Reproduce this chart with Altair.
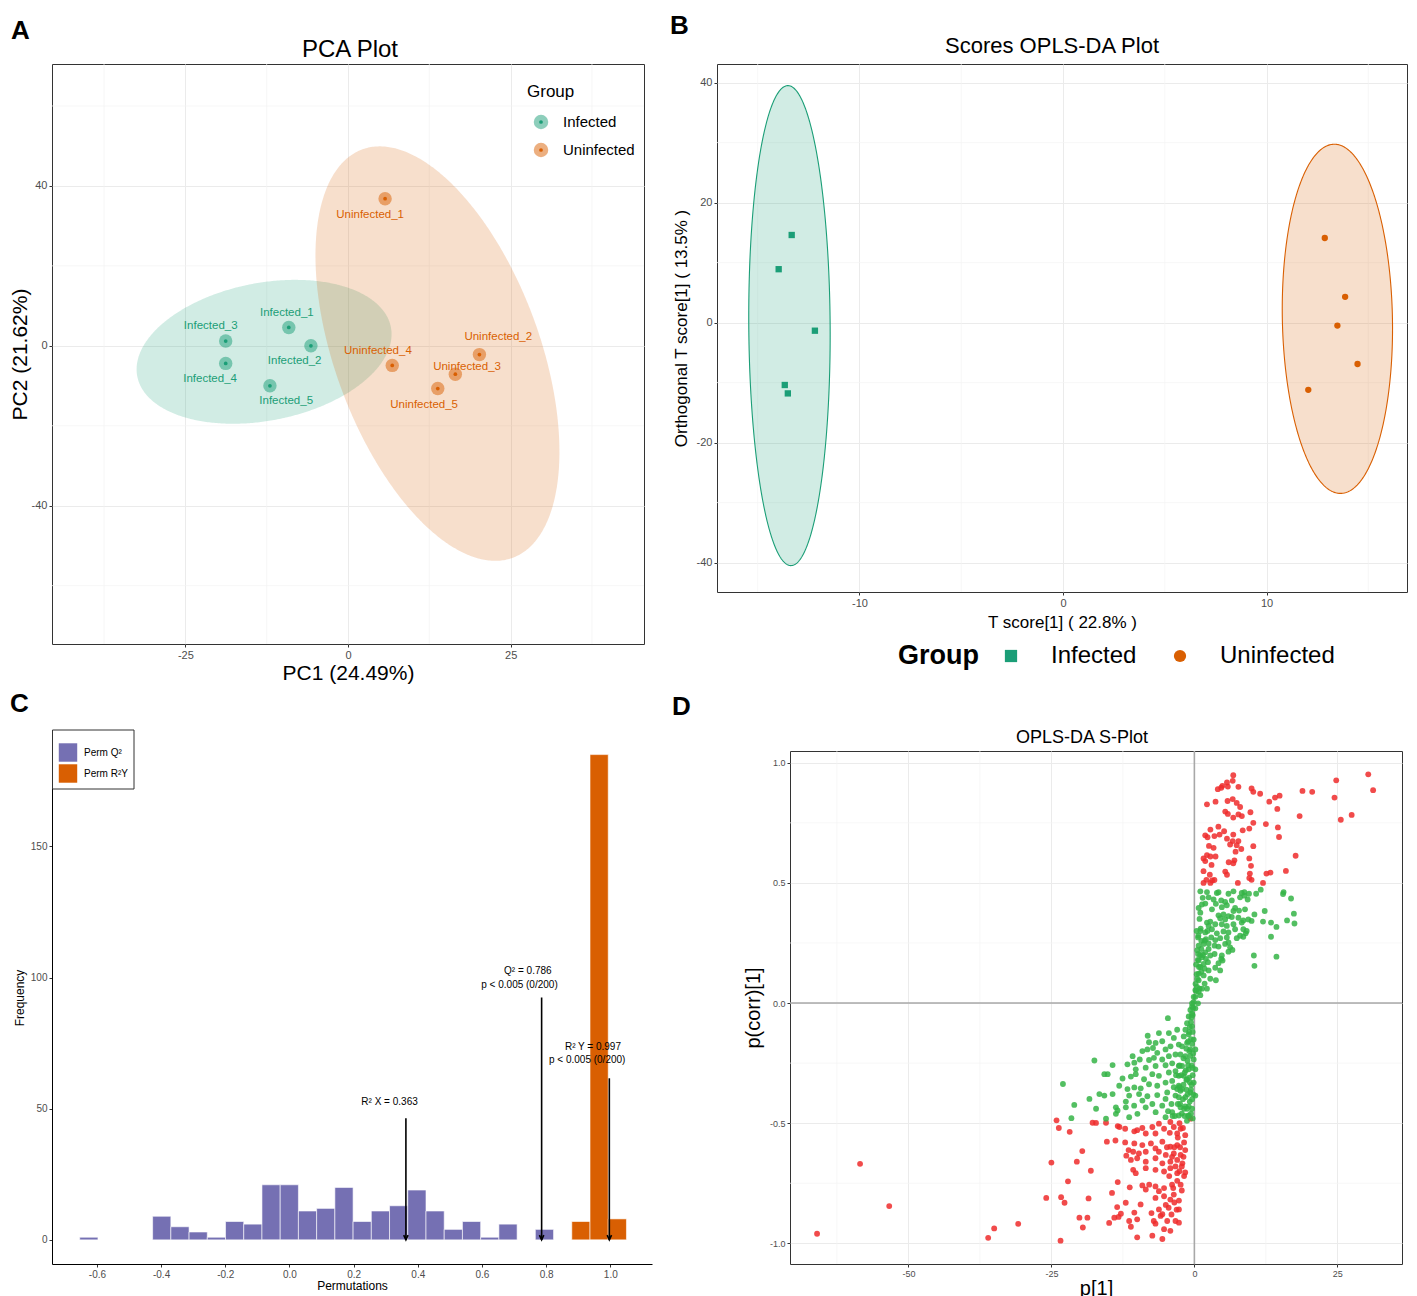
import altair as alt
import numpy as np
import pandas as pd

FONT = "Liberation Sans"
GREEN = "#1B9E77"
ORANGE = "#D95F02"
PURPLE = "#7570B3"
SP_RED = "#EE2C2C"
SP_GREEN = "#35B446"
GRID = "#EBEBEB"
GRID_MINOR = "#F3F3F3"
groups = ["Infected", "Uninfected"]

# ---------------- Panel A : PCA ----------------
pca_sample = ["Infected_1", "Infected_2", "Infected_3", "Infected_4", "Infected_5",
              "Uninfected_1", "Uninfected_2", "Uninfected_3", "Uninfected_4", "Uninfected_5"]
pca_group = ["Infected"] * 5 + ["Uninfected"] * 5
pca_pc1 = [-9.1, -5.7, -18.8, -18.8, -12.0, 5.7, 20.2, 16.5, 6.8, 13.8]
pca_pc2 = [4.6, 0.0, 1.2, -4.4, -10.0, 36.8, -2.2, -7.1, -4.9, -10.7]
pca_label_pc1 = [-9.4, -8.2, -21.1, -21.2, -9.5, 3.4, 23.1, 18.3, 4.6, 11.7]
pca_label_pc2 = [8.3, -3.9, 4.9, -8.3, -13.9, 32.7, 2.2, -5.4, -1.2, -14.9]
pca_ell_cx = [-12.9, 13.75]
pca_ell_cy = [-1.5, -1.95]
pca_ell_sxx = [384.0, 351.6]
pca_ell_syy = [324.0, 2688.0]
pca_ell_sxy = [86.0, -460.0]
pca_x_ticks = [-25, 0, 25]
pca_y_ticks = [-40, 0, 40]
pca_x_minor = [-37.5, -12.5, 12.5, 37.5]
pca_y_minor = [-60, -20, 20, 60]

# ---------------- Panel B : OPLS-DA scores ----------------
opls_group = ["Infected"] * 5 + ["Uninfected"] * 5
opls_t = [-13.33, -13.97, -12.19, -13.67, -13.52, 12.86, 13.86, 13.48, 14.47, 12.05]
opls_to = [14.6, 8.9, -1.35, -10.4, -11.8, 14.1, 4.3, -0.5, -6.9, -11.2]
opls_ell_cx = [-13.44, 13.48]
opls_ell_cy = [-0.5, 0.63]
opls_ell_sxx = [4.0, 7.34]
opls_ell_syy = [1600.0, 846.8]
opls_ell_sxy = [-3.0, -4.4]
opls_x_ticks = [-10, 0, 10]
opls_y_ticks = [-40, -20, 0, 20, 40]
opls_x_minor = [-15, -5, 5, 15]
opls_y_minor = [-30, -10, 10, 30]

# ---------------- Panel C : permutation histogram ----------------
perm_bin_width = 0.0568
perm_q2_start = [-0.6536, -0.4264, -0.3696, -0.3128, -0.2560, -0.1992, -0.1424, -0.0856,
                 -0.0288, 0.0280, 0.0848, 0.1416, 0.1984, 0.2552, 0.3120, 0.3688, 0.4256,
                 0.4824, 0.5392, 0.5960, 0.6528, 0.7664]
perm_q2_count = [1, 9, 5, 3, 1, 7, 6, 21, 21, 11, 12, 20, 7, 11, 13, 19, 11, 4, 7, 1, 6, 4]
perm_r2y_start = [0.8800, 0.9368, 0.9936]
perm_r2y_count = [7, 185, 8]
perm_series = ["Perm Q\u00b2", "Perm R\u00b2Y"]
perm_arrow_x = [0.363, 0.786, 0.997]
perm_arrow_top = [46.4, 92.4, 61.6]
perm_text = ["R\u00b2 X = 0.363", "Q\u00b2 = 0.786", "p < 0.005 (0/200)",
             "R\u00b2 Y = 0.997", "p < 0.005 (0/200)"]
perm_text_x = [0.312, 0.743, 0.717, 0.946, 0.928]
perm_text_y = [52.4, 102.4, 97.3, 73.5, 68.5]
perm_x_ticks = [-0.6, -0.4, -0.2, 0.0, 0.2, 0.4, 0.6, 0.8, 1.0]
perm_y_ticks = [0, 50, 100, 150]

# ---------------- Panel D : S-plot ----------------
splot_red_upper = [
    (6.8, 0.948), (6.7, 0.925), (5.7, 0.918), (4.9, 0.904), (4.1, 0.890), (4.7, 0.896), (5.85, 0.901),
    (7.7, 0.900), (10.0, 0.893), (10.3, 0.879), (11.5, 0.871), (24.8, 0.927), (30.4, 0.952), (31.25, 0.886),
    (18.9, 0.883), (20.6, 0.879), (24.5, 0.855), (14.1, 0.855), (14.9, 0.863), (13.1, 0.838), (2.2, 0.827),
    (3.7, 0.838), (5.8, 0.841), (6.7, 0.849), (7.4, 0.833), (8.0, 0.816), (5.4, 0.797), (5.85, 0.787),
    (7.7, 0.785), (8.3, 0.778), (6.8, 0.772), (9.8, 0.794), (14.5, 0.808), (18.4, 0.778), (27.5, 0.783),
    (25.6, 0.763), (12.5, 0.745), (10.3, 0.750), (9.6, 0.726), (8.45, 0.719), (14.6, 0.731), (14.8, 0.691),
    (4.2, 0.734), (2.8, 0.722), (1.9, 0.698), (2.3, 0.690), (3.5, 0.695), (4.4, 0.701), (5.2, 0.715),
    (6.8, 0.701), (5.7, 0.684), (6.7, 0.674), (7.7, 0.674), (6.25, 0.660), (7.4, 0.657), (8.2, 0.641),
    (7.2, 0.630), (10.3, 0.653), (2.55, 0.654), (3.36, 0.646), (2.2, 0.616), (1.6, 0.602), (2.8, 0.610),
    (3.7, 0.610), (1.9, 0.591), (3.0, 0.575), (6.0, 0.586), (7.0, 0.594), (6.8, 0.582), (9.6, 0.602),
    (9.9, 0.571), (17.7, 0.613), (16.0, 0.550), (12.6, 0.539), (13.3, 0.543), (1.6, 0.549), (2.7, 0.534),
    (5.4, 0.547), (5.7, 0.534), (9.7, 0.539), (9.6, 0.520), (10.0, 0.513), (2.1, 0.513), (3.5, 0.512),
    (1.6, 0.500), (2.8, 0.500), (7.6, 0.500), (12.0, 0.500), (3.1, 0.510),
]
splot_red_lower = [
    (-24.1, -0.488), (-23.7, -0.52), (-21.8, -0.536), (-17.8, -0.498), (-17.2, -0.499), (-15.45, -0.498),
    (-13.4, -0.512), (-13.1, -0.516), (-12.1, -0.523), (-10.5, -0.534), (-10.0, -0.529), (-9.1, -0.52),
    (-8.5, -0.543), (-7.35, -0.516), (-6.8, -0.543), (-6.2, -0.502), (-5.3, -0.523), (-4.2, -0.495),
    (-3.6, -0.516), (-3.0, -0.543), (-2.4, -0.523), (-0.7, -0.481), (-15.3, -0.577), (-13.8, -0.572),
    (-12.1, -0.58), (-10.5, -0.584), (-9.1, -0.591), (-7.6, -0.584), (-6.8, -0.605), (-5.6, -0.577),
    (-4.2, -0.598), (-3.0, -0.591), (-1.6, -0.612), (-11.5, -0.612), (-10.7, -0.619), (-9.7, -0.626),
    (-8.5, -0.619), (-6.2, -0.619), (-5.0, -0.632), (-3.6, -0.626), (-2.4, -0.632), (-19.6, -0.616),
    (-11.9, -0.635), (-11.1, -0.653), (-10.0, -0.646), (-8.5, -0.66), (-6.8, -0.646), (-5.6, -0.667),
    (-4.2, -0.66), (-3.0, -0.653), (-2.1, -0.667), (-25.0, -0.664), (-20.55, -0.66), (-18.1, -0.698),
    (-10.7, -0.694), (-10.25, -0.708), (-8.5, -0.687), (-6.8, -0.694), (-5.3, -0.701), (-4.2, -0.687),
    (-3.0, -0.708), (-1.6, -0.705), (-22.1, -0.742), (-13.4, -0.745), (-11.3, -0.767), (-9.1, -0.759),
    (-7.9, -0.756), (-6.8, -0.763), (-5.3, -0.770), (-3.9, -0.756), (-2.4, -0.756), (-8.5, -0.776),
    (-6.2, -0.783), (-3.6, -0.797), (-25.9, -0.811), (-23.3, -0.808), (-22.7, -0.831), (-18.5, -0.813),
    (-14.4, -0.79), (-12.0, -0.831), (-9.4, -0.838), (-6.8, -0.811), (-5.3, -0.804), (-4.2, -0.818),
    (-2.7, -0.822), (-13.5, -0.849), (-10.5, -0.872), (-7.5, -0.874), (-6.2, -0.859), (-5.6, -0.879),
    (-4.5, -0.852), (-2.7, -0.859), (-20.1, -0.893), (-18.7, -0.893), (-14.0, -0.893), (-13.25, -0.89),
    (-12.85, -0.877), (-11.4, -0.907), (-10.0, -0.9), (-7.1, -0.907), (-5.9, -0.886), (-4.75, -0.907),
    (-19.5, -0.934), (-14.9, -0.915), (-11.1, -0.931), (-6.8, -0.918), (-5.3, -0.941), (-4.2, -0.948),
    (-3.3, -0.907), (-2.7, -0.914), (-10.0, -0.975), (-7.35, -0.968), (-5.6, -0.982), (-23.4, -0.989),
    (-58.45, -0.669), (-53.35, -0.845), (-65.97, -0.960), (-30.8, -0.919), (-35.0, -0.938), (-36.05, -0.977),
    (-2.0, -0.52), (-2.9, -0.56), (-1.8, -0.58), (-3.5, -0.6), (-2.5, -0.6), (-1.9, -0.64), (-3.3, -0.68),
    (-2.6, -0.7), (-1.8, -0.72), (-4.4, -0.72), (-3.0, -0.74), (-2.2, -0.78), (-4.8, -0.6), (-4.3, -0.54),
    (-2.6, -0.5), (-1.6, -0.55), (-3.9, -0.64), (-2.2, -0.68), (-3.7, -0.77), (-5.0, -0.84), (-3.1, -0.86),
    (-4.0, -0.88), (-3.5, -0.83),
]
splot_green_upper = [
    (1.04, 0.465), (2.20, 0.462), (3.93, 0.458), (4.22, 0.461), (5.96, 0.455), (6.83, 0.465), (8.28, 0.458),
    (8.74, 0.462), (9.55, 0.455), (10.8, 0.455), (11.6, 0.472), (15.6, 0.462), (15.5, 0.454), (16.9, 0.435),
    (1.45, 0.438), (2.49, 0.440), (3.36, 0.431), (4.69, 0.427), (5.38, 0.421), (6.54, 0.427), (7.99, 0.440),
    (8.74, 0.447), (9.32, 0.431), (0.75, 0.396), (1.33, 0.410), (1.91, 0.414), (3.76, 0.413), (4.80, 0.399),
    (5.67, 0.407), (7.12, 0.396), (6.83, 0.383), (7.81, 0.385), (8.85, 0.390), (10.5, 0.369), (12.3, 0.383),
    (17.4, 0.372), (1.04, 0.376), (3.07, 0.390), (4.22, 0.365), (5.09, 0.369), (5.96, 0.362), (4.51, 0.353),
    (5.38, 0.348), (6.54, 0.358), (7.70, 0.355), (8.56, 0.344), (9.43, 0.348), (10.0, 0.342), (12.0, 0.339),
    (13.4, 0.335), (16.2, 0.344), (17.5, 0.331), (2.20, 0.335), (2.78, 0.339), (3.65, 0.328), (2.49, 0.321),
    (4.80, 0.328), (5.67, 0.321), (6.83, 0.328), (8.28, 0.335), (8.56, 0.307), (9.14, 0.300), (14.35, 0.317),
    (1.04, 0.300), (1.91, 0.294), (3.07, 0.307), (3.93, 0.290), (5.09, 0.298), (5.96, 0.294), (7.12, 0.307),
    (7.99, 0.280), (8.97, 0.290), (13.4, 0.276), (0.64, 0.273), (1.21, 0.259), (2.02, 0.266), (2.95, 0.273),
    (3.65, 0.262), (4.51, 0.270), (5.67, 0.273), (5.96, 0.252), (7.41, 0.270), (8.56, 0.276), (0.75, 0.239),
    (1.62, 0.246), (2.49, 0.248), (3.53, 0.239), (4.22, 0.235), (5.38, 0.246), (6.25, 0.232), (1.21, 0.225),
    (1.91, 0.211), (2.49, 0.225), (2.78, 0.198), (5.96, 0.214), (6.65, 0.221), (0.64, 0.204), (1.33, 0.191),
    (2.02, 0.184), (3.53, 0.204), (4.80, 0.198), (10.4, 0.198), (14.35, 0.193), (0.75, 0.177), (1.62, 0.163),
    (2.37, 0.170), (4.22, 0.166), (4.69, 0.184), (4.92, 0.177), (10.5, 0.155), (1.04, 0.150), (1.79, 0.143),
    (2.49, 0.136), (3.65, 0.147), (4.51, 0.136), (0.75, 0.122), (1.62, 0.115), (2.78, 0.101), (3.76, 0.095),
    (0.75, 0.095), (1.79, 0.081), (0.46, 0.067), (1.33, 0.060), (2.20, 0.060), (0.75, 0.047), (0.17, 0.026),
    (1.04, 0.033), (-0.12, 0.005), (0.64, -0.001), (-0.40, -0.015), (0.17, -0.022),
    (0.3, 0.05), (0.5, 0.10), (0.8, 0.15), (1.0, 0.20), (0.4, 0.12), (0.6, 0.18), (0.2, 0.08), (1.2, 0.13),
    (0.9, 0.06), (0.5, 0.22), (1.5, 0.20), (0.3, 0.16), (0.7, 0.28), (1.1, 0.31), (0.4, 0.30), (1.8, 0.26),
    (2.3, 0.30), (0.9, 0.35),
]
splot_green_lower = [
    (-4.63, -0.063), (-8.16, -0.136), (-6.2, -0.125), (-4.46, -0.125), (-3.01, -0.111), (-7.93, -0.163),
    (-6.78, -0.166), (-5.62, -0.159), (-3.59, -0.145), (-9.09, -0.2), (-8.22, -0.193), (-7.24, -0.187),
    (-6.49, -0.207), (-5.04, -0.193), (-4.17, -0.18), (-2.72, -0.173), (-10.8, -0.221), (-9.55, -0.235),
    (-7.93, -0.237), (-7.07, -0.228), (-5.62, -0.235), (-4.46, -0.221), (-3.30, -0.214), (-11.7, -0.255),
    (-10.5, -0.248), (-10.25, -0.276), (-8.51, -0.269), (-6.78, -0.262), (-5.04, -0.259), (-3.88, -0.251),
    (-2.72, -0.262), (-12.56, -0.314), (-11.1, -0.306), (-10.25, -0.296), (-8.8, -0.317), (-7.35, -0.296),
    (-6.2, -0.303), (-4.46, -0.289), (-3.30, -0.283), (-13.14, -0.344), (-11.7, -0.358), (-10.5, -0.351),
    (-9.38, -0.355), (-7.93, -0.338), (-6.49, -0.344), (-5.04, -0.331), (-3.88, -0.324), (-2.72, -0.344),
    (-11.4, -0.385), (-9.67, -0.379), (-8.22, -0.388), (-6.49, -0.383), (-4.75, -0.372), (-3.30, -0.385),
    (-2.44, -0.365),
    (0.17, 0.054), (-0.12, 0.026), (-0.41, -0.001), (-0.70, -0.029), (-0.99, -0.056), (-1.28, -0.084),
    (-1.57, -0.111), (-1.86, -0.139), (-0.41, -0.097), (-0.12, -0.152), (-2.15, -0.18), (-0.70, -0.193),
    (-1.57, -0.221), (-0.12, -0.235), (-2.15, -0.262), (-0.99, -0.276), (-2.72, -0.303), (-1.28, -0.317),
    (-0.12, -0.331), (-2.15, -0.358), (-0.70, -0.372), (-1.57, -0.392), (0.17, -0.276), (-0.41, -0.043),
    (-1.28, -0.166), (-2.44, -0.214), (0.17, -0.193), (-1.86, -0.303), (-3.01, -0.358), (0.17, -0.385),
    (-0.2, -0.02), (-0.5, -0.06), (-0.8, -0.10), (-1.0, -0.13), (-0.3, -0.12), (-0.6, -0.15), (-0.9, -0.20),
    (-1.2, -0.24), (-0.5, -0.26), (-1.5, -0.28), (-0.3, -0.30), (-0.8, -0.33), (-1.4, -0.36), (-0.4, -0.40),
    (-1.0, -0.43), (-0.6, -0.46), (-1.8, -0.44), (-2.5, -0.42), (-0.3, -0.48), (-1.3, -0.49),
    (-0.3, -0.05), (-0.6, -0.08), (-0.9, -0.12), (-1.1, -0.16), (-0.4, -0.17), (-1.4, -0.19), (-0.7, -0.22),
    (-1.9, -0.23), (-1.1, -0.26), (-0.3, -0.27), (-1.7, -0.29), (-2.3, -0.30), (-0.9, -0.31), (-0.5, -0.34),
    (-1.9, -0.34), (-2.6, -0.35), (-1.2, -0.38), (-0.2, -0.38), (-2.0, -0.40), (-0.8, -0.41), (-1.6, -0.43),
    (-2.9, -0.42), (-0.4, -0.44), (-2.2, -0.46), (-1.1, -0.47), (-3.4, -0.47), (-0.6, -0.36), (-1.4, -0.32),
    (-0.2, -0.21), (-2.6, -0.26), (-3.2, -0.30), (-3.6, -0.35), (-4.0, -0.42), (-4.6, -0.45), (-3.8, -0.47),
    (-1.7, -0.47),
    (-17.48, -0.239), (-14.3, -0.258), (-22.98, -0.337), (-15.74, -0.296), (-15.16, -0.296), (-16.61, -0.379),
    (-18.35, -0.399), (-15.74, -0.385), (-14.3, -0.379), (-11.98, -0.41), (-9.09, -0.406), (-5.04, -0.399),
    (-2.72, -0.392), (-21.0, -0.424), (-17.19, -0.44), (-13.72, -0.434), (-13.43, -0.447), (-11.98, -0.434),
    (-10.53, -0.427), (-8.51, -0.434), (-7.35, -0.42), (-5.62, -0.427), (-3.88, -0.454), (-2.43, -0.434),
    (-1.27, -0.44), (-21.5, -0.479), (-15.45, -0.481), (-13.72, -0.461), (-11.4, -0.475), (-9.96, -0.461),
    (-6.77, -0.454), (-5.04, -0.475), (-2.72, -0.468), (-0.99, -0.468),
]
splot_x_ticks = [-50, -25, 0, 25]
splot_y_ticks = [-1.0, -0.5, 0.0, 0.5, 1.0]
splot_x_minor = [-62.5, -37.5, -12.5, 12.5]
splot_y_minor = [-0.75, -0.25, 0.25, 0.75]


# ---------------- helpers ----------------
def ellipse_frame(cx, cy, sxx, syy, sxy, names, n=241):
    parts = []
    for k in range(len(cx)):
        L = np.linalg.cholesky(np.array([[sxx[k], sxy[k]], [sxy[k], syy[k]]]))
        u = -np.cos(np.linspace(0, np.pi, n))
        s = np.sqrt(np.clip(1 - u ** 2, 0, None))
        parts.append(pd.DataFrame({
            "x": cx[k] + L[0, 0] * u,
            "y": cy[k] + L[1, 0] * u + L[1, 1] * s,
            "y2": cy[k] + L[1, 0] * u - L[1, 1] * s,
            "group": names[k],
        }))
    return pd.concat(parts, ignore_index=True)


def free_text(txt, dx, dy, size, weight="normal", align="left", color="black"):
    return alt.Chart(pd.DataFrame({"t": [txt]})).mark_text(
        fontSize=size, fontWeight=weight, align=align, baseline="middle", font=FONT, color=color
    ).encode(x=alt.value(dx), y=alt.value(dy), text="t:N")


def key_symbol(dx, dy, shape, color, size, opacity=1.0):
    return alt.Chart(pd.DataFrame({"k": [0]})).mark_point(
        shape=shape, filled=True, size=size, color=color, opacity=opacity, strokeWidth=0
    ).encode(x=alt.value(dx), y=alt.value(dy))


def letter(ch, dx, dy):
    return free_text(ch, dx, dy, 26, "bold", "left")


def grid_rules(xs, ys, X, Y, color=GRID_MINOR, width=0.7):
    gx = alt.Chart(pd.DataFrame({"x": xs})).mark_rule(color=color, strokeWidth=width).encode(x=X)
    gy = alt.Chart(pd.DataFrame({"y": ys})).mark_rule(color=color, strokeWidth=width).encode(y=Y)
    return [gx, gy]


def axis(values, title, lsize, tsize, pad, fmt=None, grid=True, **kw):
    d = dict(values=values, title=title, grid=grid, gridColor=GRID, gridWidth=1, domain=False,
             tickColor="#333333", tickSize=3, labelColor="#4D4D4D", labelFontSize=lsize,
             titleFontSize=tsize, titleFontWeight="normal", titleColor="black",
             titlePadding=pad, labelFont=FONT, titleFont=FONT, labelPadding=2,
             labelExpr="replace(datum.label, '\u2212', '-')")
    if fmt:
        d["format"] = fmt
    d.update(kw)
    return alt.Axis(**d)


grp_scale = alt.Scale(domain=groups, range=[GREEN, ORANGE])
grp_colors = [GREEN, ORANGE]

# ---------------- Panel A chart ----------------
A_W, A_H = 592, 580
xA = alt.X("x:Q", scale=alt.Scale(domain=[-45.5, 45.5], nice=False, zero=False),
           axis=axis(pca_x_ticks, "PC1 (24.49%)", 11, 21, 2))
yA = alt.Y("y:Q", scale=alt.Scale(domain=[-74.6, 70.5], nice=False, zero=False),
           axis=axis(pca_y_ticks, "PC2 (21.62%)", 11, 21, 1))
pca_df = pd.DataFrame({"x": pca_pc1, "y": pca_pc2, "group": pca_group, "sample": pca_sample})
pca_lab = pd.DataFrame({"x": pca_label_pc1, "y": pca_label_pc2, "group": pca_group, "sample": pca_sample})
pca_ell = ellipse_frame(pca_ell_cx, pca_ell_cy, pca_ell_sxx, pca_ell_syy, pca_ell_sxy, groups)

A_layers = grid_rules(pca_x_minor, pca_y_minor, xA, yA)
A_layers.append(alt.Chart(pca_ell).mark_area(fillOpacity=0.2).encode(
    x=xA, y=yA, y2="y2:Q", fill=alt.Fill("group:N", scale=grp_scale, legend=None)))
A_layers.append(alt.Chart(pca_df).mark_circle(size=180, opacity=0.5).encode(
    x=xA, y=yA, fill=alt.Fill("group:N", scale=grp_scale, legend=None)))
A_layers.append(alt.Chart(pca_df).mark_circle(size=14, opacity=1).encode(
    x=xA, y=yA, fill=alt.Fill("group:N", scale=grp_scale, legend=None)))
A_layers.append(alt.Chart(pca_lab).mark_text(fontSize=11.5, font=FONT).encode(
    x=xA, y=yA, text="sample:N", fill=alt.Fill("group:N", scale=grp_scale, legend=None)))
# legend "Group" (inside the panel, top right)
A_layers.append(free_text("Group", 475, 28, 17))
for i, g in enumerate(groups):
    A_layers.append(key_symbol(489, 58 + 28 * i, "circle", grp_colors[i], 210, 0.5))
    A_layers.append(key_symbol(489, 58 + 28 * i, "circle", grp_colors[i], 14, 1.0))
    A_layers.append(free_text(g, 511, 58 + 28 * i, 15))
A_layers.append(free_text("PCA Plot", A_W / 2 + 2, -14, 24, align="center"))
A_layers.append(letter("A", -41, -33))
chartA = alt.layer(*A_layers).properties(
    width=A_W, height=A_H, view=alt.ViewBackground(stroke="#333333", strokeWidth=1))

# ---------------- Panel B chart ----------------
B_W, B_H = 690, 528
xB = alt.X("x:Q", scale=alt.Scale(domain=[-17.0, 16.9], nice=False, zero=False),
           axis=axis(opls_x_ticks, "T score[1] ( 22.8% )", 11, 17, 6))
yB = alt.Y("y:Q", scale=alt.Scale(domain=[-44.9, 43.1], nice=False, zero=False),
           axis=axis(opls_y_ticks, "Orthogonal T score[1] ( 13.5% )", 11, 17, 6))
opls_df = pd.DataFrame({"x": opls_t, "y": opls_to, "group": opls_group})
opls_ell = ellipse_frame(opls_ell_cx, opls_ell_cy, opls_ell_sxx, opls_ell_syy, opls_ell_sxy, groups)
B_layers = grid_rules(opls_x_minor, opls_y_minor, xB, yB)
B_layers.append(alt.Chart(opls_ell).mark_area(fillOpacity=0.2, strokeWidth=1.1).encode(
    x=xB, y=yB, y2="y2:Q",
    fill=alt.Fill("group:N", scale=grp_scale, legend=None),
    stroke=alt.Stroke("group:N", scale=grp_scale, legend=None)))
B_layers.append(alt.Chart(opls_df).mark_point(filled=True, opacity=1, size=40).encode(
    x=xB, y=yB,
    fill=alt.Fill("group:N", scale=grp_scale, legend=None),
    shape=alt.Shape("group:N", scale=alt.Scale(domain=groups, range=["square", "circle"]), legend=None)))
# legend "Group" below the panel
LEG_Y = B_H + 64
B_layers.append(free_text("Group", 181, LEG_Y, 27, weight="bold"))
B_layers.append(key_symbol(294, LEG_Y, "square", GREEN, 150))
B_layers.append(free_text("Infected", 334, LEG_Y, 24))
B_layers.append(key_symbol(463, LEG_Y, "circle", ORANGE, 150))
B_layers.append(free_text("Uninfected", 503, LEG_Y, 24))
B_layers.append(free_text("Scores OPLS-DA Plot", B_W / 2 - 10, -18, 22, align="center"))
B_layers.append(letter("B", -47, -38))
chartB = alt.layer(*B_layers).properties(
    width=B_W, height=B_H, view=alt.ViewBackground(stroke="#333333", strokeWidth=1))

# ---------------- Panel C chart ----------------
C_W, C_H = 600, 513
C_TOP = -20   # the histogram's y axis starts a little higher than the S-plot frame
xC = alt.X("x:Q", scale=alt.Scale(domain=[-0.74, 1.13], nice=False, zero=False),
           axis=axis(perm_x_ticks, "Permutations", 10, 12, 1, fmt=".1f", grid=False,
                     domain=True, domainColor="black", domainWidth=1))
yC = alt.Y("y:Q", scale=alt.Scale(domain=[-9.2, 194], range=[C_H, C_TOP], nice=False, zero=False),
           axis=axis(perm_y_ticks, "Frequency", 10, 12, 4, grid=False,
                     domain=True, domainColor="black", domainWidth=1))
hist_df = pd.DataFrame({
    "x": perm_q2_start + perm_r2y_start,
    "count": perm_q2_count + perm_r2y_count,
    "series": [perm_series[0]] * len(perm_q2_start) + [perm_series[1]] * len(perm_r2y_start),
})
hist_df["x_end"] = hist_df["x"] + perm_bin_width
hist_df["y"] = hist_df["count"]
hist_df["y0"] = 0
arrow_df = pd.DataFrame({"x": perm_arrow_x, "y": perm_arrow_top, "y0": [0] * 3})
head_df = pd.DataFrame({"x": perm_arrow_x, "y": [0] * 3})
note_df = pd.DataFrame({"x": perm_text_x, "y": perm_text_y, "t": perm_text})
C_layers = [
    alt.Chart(hist_df).mark_bar(stroke="white", strokeWidth=0.6).encode(
        x=xC, x2="x_end:Q", y=yC, y2="y0:Q",
        color=alt.Color("series:N", scale=alt.Scale(domain=perm_series, range=[PURPLE, ORANGE]),
                        legend=None)),
    alt.Chart(arrow_df).mark_rule(color="black", strokeWidth=1.6).encode(x=xC, y=yC, y2="y0:Q"),
    alt.Chart(head_df).mark_point(shape="M-0.8,-1.7L0,0L0.8,-1.7", filled=False, color="black",
                                  strokeWidth=1.6, size=30, opacity=1).encode(x=xC, y=yC),
    alt.Chart(note_df).mark_text(fontSize=10, font=FONT, color="black").encode(x=xC, y=yC, text="t:N"),
    # legend box (top-left, inside the axes)
    alt.Chart(pd.DataFrame({"k": [0]})).mark_rect(fill="white", stroke="#333333", strokeWidth=1).encode(
        x=alt.value(0.5), x2=alt.value(82), y=alt.value(C_TOP - 1), y2=alt.value(C_TOP + 58)),
    key_symbol(16, C_TOP + 21.5, "square", PURPLE, 340),
    key_symbol(16, C_TOP + 42.5, "square", ORANGE, 340),
    free_text(perm_series[0], 32, C_TOP + 21.5, 10),
    free_text(perm_series[1], 32, C_TOP + 42.5, 10),
    letter("C", -42, C_TOP - 27),
]
chartC = alt.layer(*C_layers).properties(width=C_W, height=C_H)

# ---------------- Panel D chart ----------------
D_W, D_H = 612, 513
xD = alt.X("x:Q", scale=alt.Scale(domain=[-70.7, 36.3], nice=False, zero=False),
           axis=axis(splot_x_ticks, "p[1]", 9, 20, 0))
yD = alt.Y("y:Q", scale=alt.Scale(domain=[-1.086, 1.049], nice=False, zero=False),
           axis=axis(splot_y_ticks, "p(corr)[1]", 9, 20, 6, fmt=".1f"))
sp_rows = ([(x, y, "red") for x, y in splot_red_upper + splot_red_lower] +
           [(x, y, "green") for x, y in splot_green_upper + splot_green_lower])
sp_df = pd.DataFrame(sp_rows, columns=["x", "y", "cls"])
D_layers = grid_rules(splot_x_minor, splot_y_minor, xD, yD)
D_layers += grid_rules([0], [0], xD, yD, color="#A8A8A8", width=1.6)
D_layers.append(alt.Chart(sp_df).mark_circle(size=34, opacity=0.85).encode(
    x=xD, y=yD,
    color=alt.Color("cls:N", scale=alt.Scale(domain=["red", "green"], range=[SP_RED, SP_GREEN]),
                    legend=None)))
D_layers.append(free_text("OPLS-DA S-Plot", D_W / 2 - 14, -13, 18, align="center"))
D_layers.append(letter("D", -118, -44))
chartD = alt.layer(*D_layers).properties(
    width=D_W, height=D_H, view=alt.ViewBackground(stroke="#333333", strokeWidth=1))

indep = dict(color="independent", fill="independent", shape="independent", stroke="independent")
row1 = alt.hconcat(alt.vconcat(chartA), alt.vconcat(chartB), spacing=24).resolve_scale(**indep)
row2 = alt.hconcat(alt.vconcat(chartC), alt.vconcat(chartD), spacing=18).resolve_scale(**indep)
chart = alt.vconcat(row1, row2, spacing=6).resolve_scale(**indep).properties(
    padding={"left": 0, "top": 4, "right": 0, "bottom": 0}
).configure(font=FONT).configure_view(stroke="transparent")

chart.save("out.html", embed_options={"renderer": "svg", "actions": False})
